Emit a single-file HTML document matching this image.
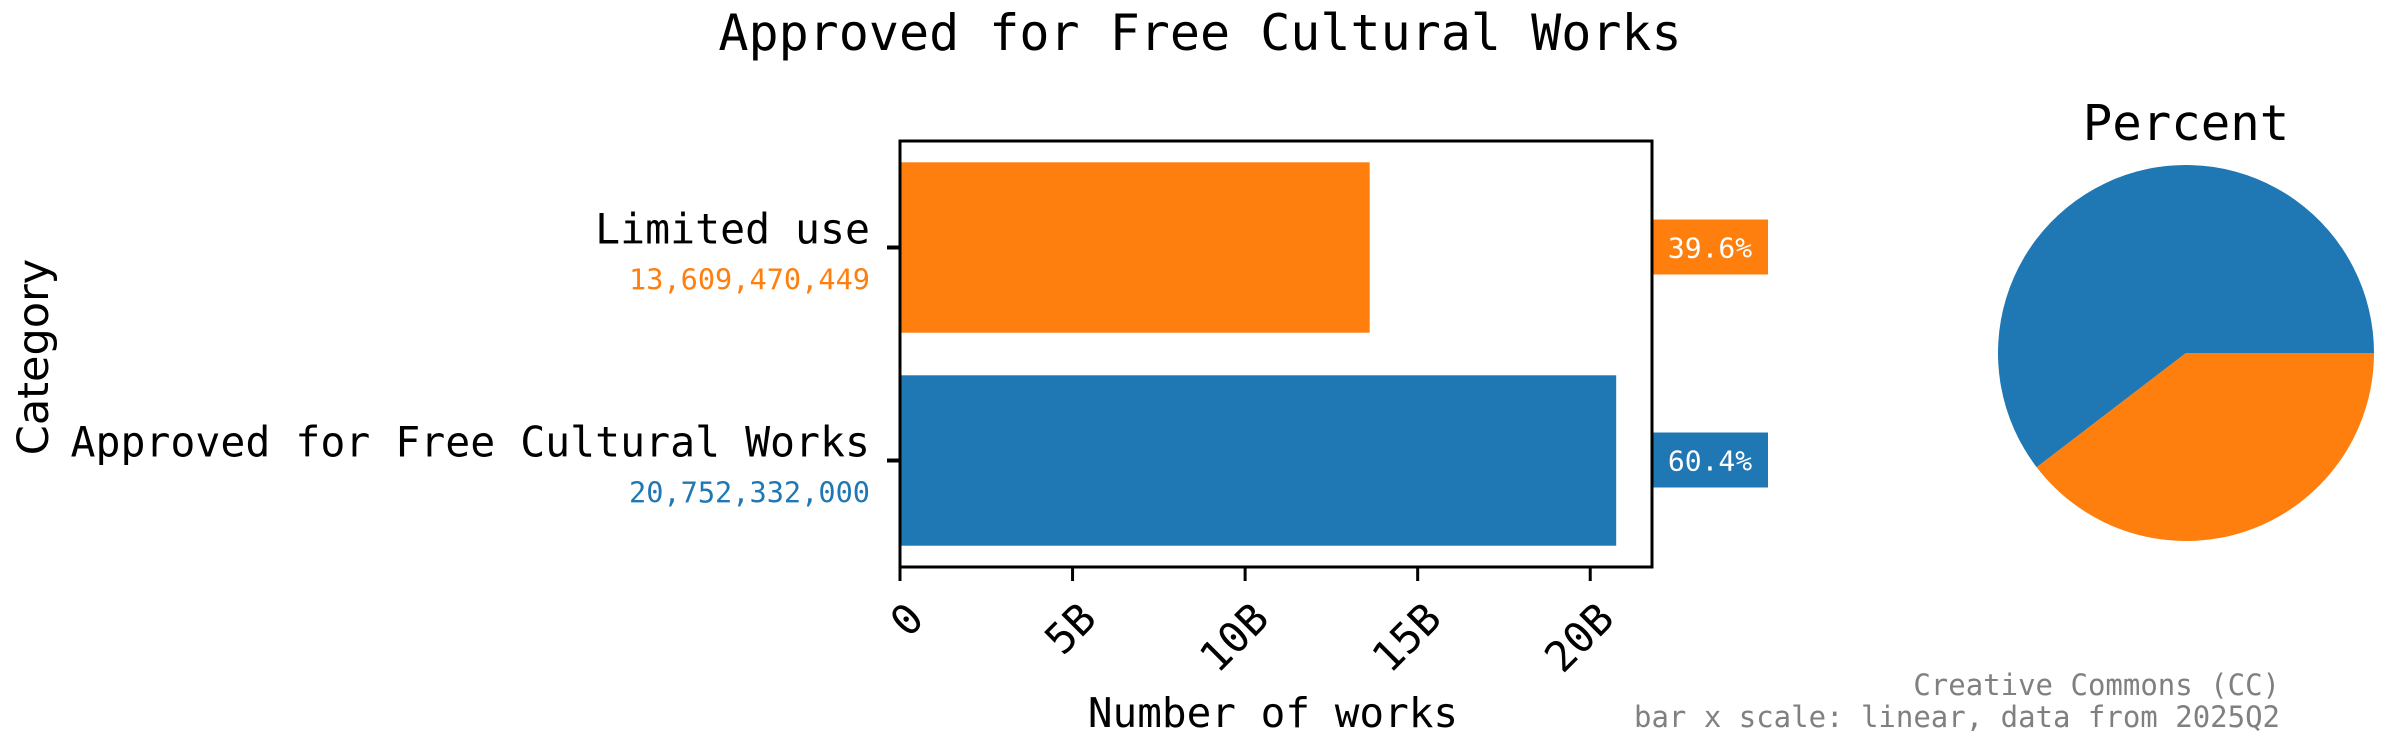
<!DOCTYPE html>
<html><head><meta charset="utf-8"><style>
html,body{margin:0;padding:0;background:#fff;}
svg{display:block;}
text{font-family:"DejaVu Sans Mono","Liberation Mono",monospace;}
</style></head><body>
<svg id="chart" width="2400" height="750" viewBox="0 0 2400 750" xmlns="http://www.w3.org/2000/svg">
<text x="1200" y="50" font-size="50" text-anchor="middle">Approved for Free Cultural Works</text>
<g id="bars"></g>
<rect x="900" y="141" width="752" height="426" fill="none" stroke="#000" stroke-width="3"/>
<text transform="translate(48,357) rotate(-90)" font-size="43" text-anchor="middle" style="font-family:'DejaVu Sans','Liberation Sans',sans-serif">Category</text>
<text x="1273" y="727" font-size="41" text-anchor="middle">Number of works</text>
<text x="2186" y="140" font-size="49" text-anchor="middle">Percent</text>
<g id="pie"></g>
<text x="2280" y="695" font-size="29" fill="#808080" text-anchor="end">Creative Commons (CC)</text>
<text x="2280" y="727" font-size="29" fill="#808080" text-anchor="end">bar x scale: linear, data from 2025Q2</text>
</svg>
<script>
const categories = ["Limited use", "Approved for Free Cultural Works"];
const values = [13609470449, 20752332000];
const colors = ["#ff7f0e", "#1f77b4"];
const tickValues = [0, 5e9, 10e9, 15e9, 20e9];
const tickLabels = ["0", "5B", "10B", "15B", "20B"];

const NS = "http://www.w3.org/2000/svg";
const pLeft = 900, pRight = 1652, pTop = 141, pBottom = 567;
const total = values.reduce((a,b)=>a+b,0);
const xmax = Math.max(...values) * 1.05;
const xs = v => pLeft + v / xmax * (pRight - pLeft);
const band = (pBottom - pTop) / categories.length;
const yc = i => pTop + band * (i + 0.5);
const barH = band * 0.8;
function mk(tag, attrs, parent){const e=document.createElementNS(NS,tag);for(const k in attrs)e.setAttribute(k,attrs[k]);parent.appendChild(e);return e;}
const gBars = document.getElementById('bars');
categories.forEach((c,i)=>{
  const cy = yc(i);
  const r = mk('rect',{x:pLeft,y:cy-barH/2,width:xs(values[i])-pLeft,height:barH,fill:colors[i]},gBars);
  
  
  const t = mk('line',{x1:pLeft-13,x2:pLeft,y1:cy,y2:cy,stroke:'#000','stroke-width':4},gBars);
  
  
  const lb = mk('text',{x:870,y:cy-4,'font-size':41.5,'text-anchor':'end'},gBars);
  lb.textContent = c;
  
  
  const vl = mk('text',{x:870,y:cy+42,'font-size':28.6,'text-anchor':'end',fill:colors[i]},gBars);
  vl.textContent = values[i].toLocaleString('en-US');
  
  
  const pb = mk('rect',{x:pRight,y:cy-28,width:116,height:55,fill:colors[i]},gBars);
  
  
  const pt = mk('text',{x:pRight+58,y:cy+10,'font-size':28,'text-anchor':'middle',fill:'#fff'},gBars);
  pt.textContent = (values[i]/total*100).toFixed(1) + '%';
  
  
});
tickValues.forEach((v,i)=>{
  const tx = xs(v);
  const t = mk('line',{x1:tx,x2:tx,y1:pBottom,y2:pBottom+14,stroke:'#000','stroke-width':3},gBars);
  
  
  const l = mk('text',{transform:`translate(${tx+26},${pBottom+54}) rotate(-45)`,'font-size':42,'text-anchor':'end'},gBars);
  l.textContent = tickLabels[i];
  
  
});
const gPie = document.getElementById('pie');
const pcx = 2186, pcy = 353, pR = 188;
let ang = 0;
values.slice().reverse().forEach((v,k)=>{
  const i = values.length-1-k;
  const a0 = ang, a1 = ang + v/total*2*Math.PI; ang = a1;
  const p0 = [pcx+pR*Math.cos(a0), pcy-pR*Math.sin(a0)], p1=[pcx+pR*Math.cos(a1), pcy-pR*Math.sin(a1)];
  const large = (a1-a0)>Math.PI?1:0;
  const p = mk('path',{d:`M${pcx},${pcy} L${p0[0]},${p0[1]} A${pR},${pR} 0 ${large} 0 ${p1[0]},${p1[1]} Z`,fill:colors[i]},gPie);
  
  
});
</script>
</body></html>
